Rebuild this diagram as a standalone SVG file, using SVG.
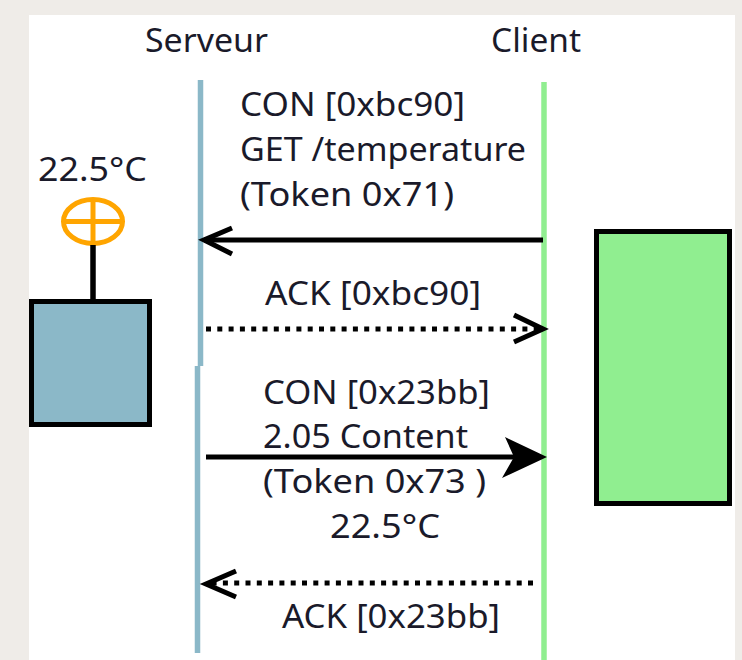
<svg xmlns="http://www.w3.org/2000/svg" width="742" height="660" viewBox="0 0 742 660">
<style>
text{font-family:"Noto Sans","DejaVu Sans",sans-serif;font-size:33px;fill:#1a1a2a}
.conn{stroke:#000;fill:none;stroke-width:5}
.dot{stroke-dasharray:5 6.300;stroke-width:5}
.box{stroke:#000;stroke-width:5}
</style>
<rect width="742" height="660" fill="#efece8"/>
<rect x="29" y="15" width="706" height="645" fill="#fff"/>
<g id="server-lifeline"><path d="M200.500 80V366" stroke="#8bb8c8" stroke-width="5.500" fill="none"/><path d="M197.500 366V653" stroke="#8bb8c8" stroke-width="5.500" fill="none"/></g>
<g id="client-lifeline"><path d="M544 82V660" stroke="#90ee90" stroke-width="5.500" fill="none"/></g>
<g id="server-label"><text x="145" y="52" textLength="123" lengthAdjust="spacingAndGlyphs">Serveur</text></g>
<g id="client-label"><text x="491" y="52" textLength="90" lengthAdjust="spacingAndGlyphs">Client</text></g>
<g id="sensor"><text x="38" y="181" textLength="109" lengthAdjust="spacingAndGlyphs">22.5°C</text>
<ellipse cx="93" cy="221.500" rx="29.500" ry="22" fill="none" stroke="#ffa500" stroke-width="5"/><path d="M64 221.500H122M93 199V244" stroke="#ffa500" stroke-width="5" fill="none"/>
<path d="M93 245V300" stroke="#000" stroke-width="5.500" fill="none"/>
<rect class="box" x="31.500" y="301.500" width="118" height="123" fill="#8bb8c8"/></g>
<g id="client-box"><rect class="box" x="596.500" y="231.500" width="133" height="272" fill="#90ee90"/></g>
<g id="labels">
<text x="240" y="116" textLength="225" lengthAdjust="spacingAndGlyphs">CON [0xbc90]</text>
<text x="240" y="161" textLength="286" lengthAdjust="spacingAndGlyphs">GET /temperature</text>
<text x="240" y="206" textLength="214" lengthAdjust="spacingAndGlyphs">(Token 0x71)</text>
<text x="265" y="305" textLength="216" lengthAdjust="spacingAndGlyphs">ACK [0xbc90]</text>
<text x="263" y="404" textLength="227" lengthAdjust="spacingAndGlyphs">CON [0x23bb]</text>
<text x="263" y="448" textLength="205" lengthAdjust="spacingAndGlyphs">2.05 Content</text>
<text x="263" y="493" textLength="223" lengthAdjust="spacingAndGlyphs">(Token 0x73 )</text>
<text x="330" y="538" textLength="110" lengthAdjust="spacingAndGlyphs">22.5°C</text>
<text x="282" y="628" textLength="218" lengthAdjust="spacingAndGlyphs">ACK [0x23bb]</text>
</g>
<g id="connectors">
<path class="conn" d="M543 240H204"/><path class="conn" d="M232 228L204 240L232 254"/>
<path class="conn dot" d="M206 329H540"/><path class="conn" d="M514 315L543 329L514 342"/>
<path class="conn" d="M206 457H520"/><path d="M505 437L547 457L502 478L514 457Z" fill="#000"/>
<path class="conn dot" d="M533 583H206"/><path class="conn" d="M236 571L206 584L236 597"/>
</g>
</svg>
